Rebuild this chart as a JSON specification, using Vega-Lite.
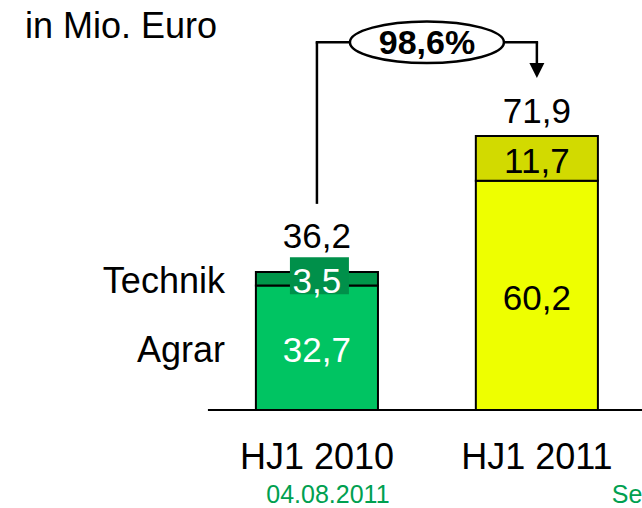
{
  "$schema": "https://vega.github.io/schema/vega-lite/v6.json",
  "width": 642,
  "height": 508,
  "autosize": "none",
  "padding": 0,
  "background": "white",
  "data": {"values": [{}]},
  "config": {
    "view": {"stroke": null},
    "axis": {"disable": true},
    "legend": {"disable": true},
    "font": "Liberation Sans",
    "text": {"font": "Liberation Sans"},
    "locale": {"number": {"decimal": ",", "thousands": ".", "grouping": [3], "currency": ["", " €"]}}
  },
  "datasets": {
    "bars": [
      {"period": "HJ1 2010", "segment": "Agrar", "mio": 32.7},
      {"period": "HJ1 2010", "segment": "Technik", "mio": 3.5},
      {"period": "HJ1 2011", "segment": "Agrar", "mio": 60.2},
      {"period": "HJ1 2011", "segment": "Technik", "mio": 11.7}
    ],
    "periods": [
      {"period": "HJ1 2010"},
      {"period": "HJ1 2011"}
    ]
  },
  "layer": [
    {
      "data": {"name": "bars"},
      "mark": {"type": "bar", "stroke": "black", "strokeWidth": 2},
      "encoding": {
        "x": {
          "field": "period", "type": "nominal",
          "scale": {"type": "band", "domain": ["HJ1 2010", "HJ1 2011"], "paddingInner": 0.445, "paddingOuter": 0.682, "align": 0.853}
        },
        "y": {
          "field": "mio", "type": "quantitative", "stack": "zero",
          "scale": {"domain": [-25.72, 107.61], "nice": false, "zero": false}
        },
        "detail": {"field": "segment"},
        "order": {"field": "segment", "sort": "ascending"},
        "color": {
          "condition": [
            {"test": "datum.period === 'HJ1 2010' && datum.segment === 'Agrar'", "value": "#00C462"},
            {"test": "datum.period === 'HJ1 2010' && datum.segment === 'Technik'", "value": "#00964A"},
            {"test": "datum.period === 'HJ1 2011' && datum.segment === 'Agrar'", "value": "#EEFF00"}
          ],
          "value": "#D2DA00"
        }
      }
    },
    {
      "data": {"name": "bars"},
      "transform": [
        {"stack": "mio", "groupby": ["period"], "sort": [{"field": "segment", "order": "ascending"}], "as": ["lo", "hi"]},
        {"fold": ["lo", "hi"], "as": ["edge", "level"]},
        {"aggregate": [{"op": "mean", "field": "level", "as": "mid"}], "groupby": ["period", "segment", "mio"]},
        {"filter": "datum.period === 'HJ1 2010' && datum.segment === 'Technik'"}
      ],
      "mark": {"type": "point", "shape": "M-1,-0.627H1V0.627H-1Z", "size": 3481, "filled": true, "color": "#00904A", "opacity": 1, "xOffset": 2.5, "yOffset": -3},
      "encoding": {
        "x": {"field": "period", "type": "nominal"},
        "y": {"field": "mid", "type": "quantitative"}
      }
    },
    {
      "data": {"name": "bars"},
      "transform": [
        {"stack": "mio", "groupby": ["period"], "sort": [{"field": "segment", "order": "ascending"}], "as": ["lo", "hi"]},
        {"fold": ["lo", "hi"], "as": ["edge", "level"]},
        {"aggregate": [{"op": "mean", "field": "level", "as": "mid"}], "groupby": ["period", "segment", "mio"]}
      ],
      "mark": {"type": "text", "fontSize": 35, "font": "Liberation Sans", "baseline": "middle", "align": "center", "dy": 3.5},
      "encoding": {
        "x": {"field": "period", "type": "nominal"},
        "y": {"field": "mid", "type": "quantitative"},
        "text": {"field": "mio", "type": "quantitative", "format": ".1f"},
        "color": {
          "condition": {"test": "datum.period === 'HJ1 2010'", "value": "white"},
          "value": "black"
        }
      }
    },
    {
      "data": {"name": "bars"},
      "transform": [
        {"stack": "mio", "groupby": ["period"], "sort": [{"field": "segment", "order": "ascending"}], "as": ["lo", "hi"]},
        {"fold": ["lo", "hi"], "as": ["edge", "level"]},
        {"aggregate": [{"op": "mean", "field": "level", "as": "mid"}], "groupby": ["period", "segment", "mio"]},
        {"filter": "datum.period === 'HJ1 2010'"}
      ],
      "mark": {"type": "text", "fontSize": 36, "font": "Liberation Sans", "baseline": "middle", "align": "right", "dx": -92, "dy": 3, "color": "black"},
      "encoding": {
        "x": {"field": "period", "type": "nominal"},
        "y": {"field": "mid", "type": "quantitative"},
        "text": {"field": "segment", "type": "nominal"}
      }
    },
    {
      "data": {"name": "bars"},
      "transform": [
        {"aggregate": [{"op": "sum", "field": "mio", "as": "total"}], "groupby": ["period"]},
        {"filter": "datum.period === 'HJ1 2010'"}
      ],
      "mark": {"type": "text", "fontSize": 35, "font": "Liberation Sans", "baseline": "middle", "align": "center", "dy": -35, "color": "black"},
      "encoding": {
        "x": {"field": "period", "type": "nominal"},
        "y": {"field": "total", "type": "quantitative"},
        "text": {"field": "total", "type": "quantitative", "format": ".1f"}
      }
    },
    {
      "data": {"name": "bars"},
      "transform": [
        {"aggregate": [{"op": "sum", "field": "mio", "as": "total"}], "groupby": ["period"]},
        {"filter": "datum.period === 'HJ1 2011'"}
      ],
      "mark": {"type": "text", "fontSize": 35, "font": "Liberation Sans", "baseline": "middle", "align": "center", "dy": -24, "color": "black"},
      "encoding": {
        "x": {"field": "period", "type": "nominal"},
        "y": {"field": "total", "type": "quantitative"},
        "text": {"field": "total", "type": "quantitative", "format": ".1f"}
      }
    },
    {
      "data": {"name": "periods"},
      "mark": {"type": "text", "fontSize": 36, "font": "Liberation Sans", "baseline": "middle", "align": "center", "color": "black"},
      "encoding": {
        "x": {"field": "period", "type": "nominal"},
        "y": {"datum": -12.5},
        "text": {"field": "period", "type": "nominal"}
      }
    },
    {
      "mark": {"type": "rule", "color": "black", "strokeWidth": 2, "xOffset": -109},
      "encoding": {
        "x": {"datum": "HJ1 2010"},
        "x2": {"value": "width"},
        "y": {"datum": 0}
      }
    },
    {
      "mark": {"type": "rule", "color": "black", "strokeWidth": 2.5},
      "encoding": {
        "x": {"datum": "HJ1 2010"},
        "y": {"datum": 54.1},
        "y2": {"datum": 96.5}
      }
    },
    {
      "mark": {"type": "rule", "color": "black", "strokeWidth": 2.5, "strokeCap": "square"},
      "encoding": {
        "x": {"datum": "HJ1 2010"},
        "x2": {"datum": "HJ1 2011"},
        "y": {"datum": 96.5}
      }
    },
    {
      "mark": {"type": "rule", "color": "black", "strokeWidth": 2.5},
      "encoding": {
        "x": {"datum": "HJ1 2011"},
        "y": {"datum": 96.5},
        "y2": {"datum": 90.0}
      }
    },
    {
      "mark": {"type": "point", "shape": "M-1,-1L1,-1L0,1Z", "size": 225, "filled": true, "color": "black", "opacity": 1},
      "encoding": {
        "x": {"datum": "HJ1 2011"},
        "y": {"datum": 89.1}
      }
    },
    {
      "mark": {"type": "point", "shape": "M-1,0A1,0.27 0 1,0 1,0A1,0.27 0 1,0 -1,0Z", "size": 23716, "filled": false, "fill": "white", "fillOpacity": 1, "stroke": "black", "strokeWidth": 2.5, "opacity": 1, "xOffset": 110},
      "encoding": {
        "x": {"datum": "HJ1 2010"},
        "y": {"datum": 96.5}
      }
    },
    {
      "mark": {"type": "text", "fontSize": 34, "fontWeight": "bold", "font": "Liberation Sans", "baseline": "middle", "align": "center", "dx": 110, "color": "black"},
      "encoding": {
        "x": {"datum": "HJ1 2010"},
        "y": {"datum": 96.0},
        "text": {"value": "98,6%"}
      }
    },
    {
      "mark": {"type": "text", "fontSize": 36, "font": "Liberation Sans", "baseline": "middle", "align": "left", "dx": -292, "color": "black"},
      "encoding": {
        "x": {"datum": "HJ1 2010"},
        "y": {"datum": 100.5},
        "text": {"value": "in Mio. Euro"}
      }
    },
    {
      "mark": {"type": "text", "fontSize": 25, "font": "Liberation Sans", "baseline": "middle", "align": "center", "dx": 11, "color": "#00A050"},
      "encoding": {
        "x": {"datum": "HJ1 2010"},
        "y": {"datum": -22.2},
        "text": {"value": "04.08.2011"}
      }
    },
    {
      "mark": {"type": "text", "fontSize": 25, "font": "Liberation Sans", "baseline": "middle", "align": "left", "dx": 75, "color": "#00A050"},
      "encoding": {
        "x": {"datum": "HJ1 2011"},
        "y": {"datum": -22.2},
        "text": {"value": "Se"}
      }
    }
  ]
}
